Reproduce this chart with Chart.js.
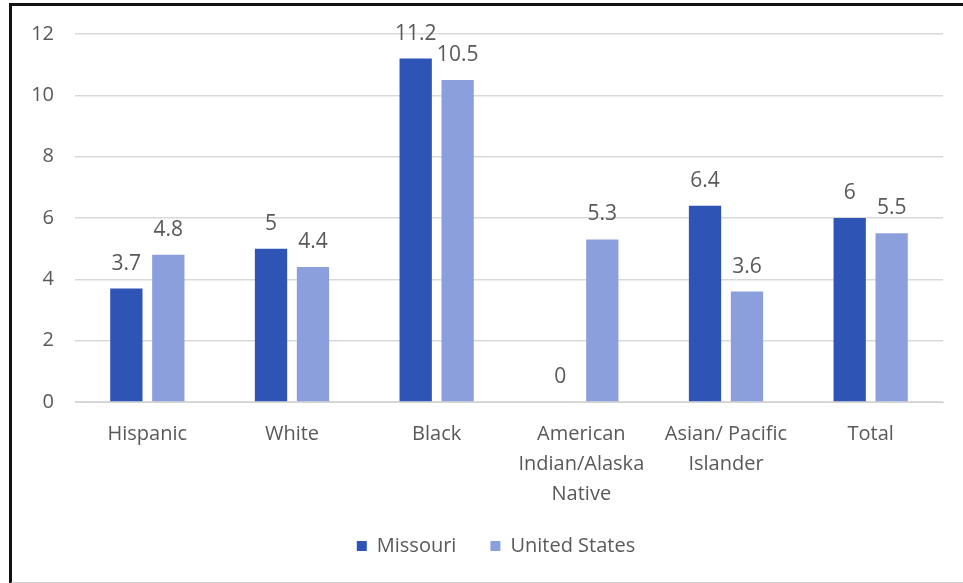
<!DOCTYPE html>
<html>
<head>
<meta charset="utf-8">
<script src="https://cdn.jsdelivr.net/npm/chart.js@4.4.1/dist/chart.umd.min.js"></script>
<style>
  html, body { margin: 0; padding: 0; background: #fff; }
  #wrap { position: relative; width: 963px; height: 583px; }
  #frame {
    position: absolute; left: 9px; top: 3px; width: 954px; height: 576px;
    border-left: 3px solid #111; border-top: 3px solid #111; border-bottom: 2px solid #cfcfcf;
    pointer-events: none;
  }
</style>
</head>
<body>
<div id="wrap">
  <canvas id="rateChart" width="963" height="583"></canvas>
  <div id="frame"></div>
</div>
<script>
// Rates by race / ethnicity, Missouri vs. United States
const categories = ['Hispanic', 'White', 'Black', ['American', 'Indian/Alaska', 'Native'], ['Asian/ Pacific', 'Islander'], 'Total'];
const missouri = [3.7, 5, 11.2, 0, 6.4, 6];
const unitedStates = [4.8, 4.4, 10.5, 5.3, 3.6, 5.5];
const yTicks = [0, 2, 4, 6, 8, 10, 12];

const FONT = '"Open Sans", "Noto Sans", sans-serif';
const TEXT = '#595959';

// value labels above each bar
const barLabels = {
    id: 'barLabels',
    afterDatasetsDraw(chart) {
        const ctx = chart.ctx;
        ctx.save();
        ctx.font = '21px ' + FONT;
        ctx.fillStyle = TEXT;
        ctx.textAlign = 'center';
        ctx.textBaseline = 'middle';
        chart.data.datasets.forEach((ds, i) => {
            chart.getDatasetMeta(i).data.forEach((bar, j) => {
                ctx.fillText(String(ds.data[j]), bar.x, bar.y - 25);
            });
        });
        ctx.restore();
    }
};

new Chart(document.getElementById('rateChart'), {
    type: 'bar',
    data: {
        labels: categories,
        datasets: [
            {
                label: 'Missouri',
                data: missouri,
                backgroundColor: '#2E55B5',
                barPercentage: 0.77,
                categoryPercentage: 0.58
            },
            {
                label: 'United States',
                data: unitedStates,
                backgroundColor: '#8C9FDD',
                barPercentage: 0.77,
                categoryPercentage: 0.58
            }
        ]
    },
    options: {
        responsive: false,
        animation: false,
        layout: {
            padding: { left: 49, right: 20, top: 34, bottom: 17 }
        },
        plugins: {
            legend: {
                position: 'bottom',
                labels: {
                    boxWidth: 10,
                    boxHeight: 10,
                    padding: 34,
                    color: TEXT,
                    font: { family: FONT, size: 20 }
                }
            },
            tooltip: { enabled: false }
        },
        scales: {
            x: {
                grid: { display: false },
                border: { display: true, color: '#d4d4d4', width: 1 },
                ticks: {
                    color: TEXT,
                    padding: 9,
                    maxRotation: 0,
                    autoSkip: false,
                    font: { family: FONT, size: 20, lineHeight: 1.5 }
                },
                afterFit(scale) {
                    scale.height = 100;
                    // three-line labels run past the axis box; let them
                    scale._computeLabelArea = () => undefined;
                }
            },
            y: {
                min: 0,
                max: 12,
                afterBuildTicks(scale) {
                    scale.ticks = yTicks.map(v => ({ value: v }));
                },
                grid: { color: '#d9d9d9', lineWidth: 1.5, drawTicks: false },
                border: { display: false },
                ticks: {
                    color: TEXT,
                    padding: 21,
                    font: { family: FONT, size: 20 }
                },
                afterFit(scale) {
                    scale.width = 26;
                    scale._computeLabelArea = () => undefined;
                }
            }
        }
    },
    plugins: [barLabels]
});
</script>
</body>
</html>
